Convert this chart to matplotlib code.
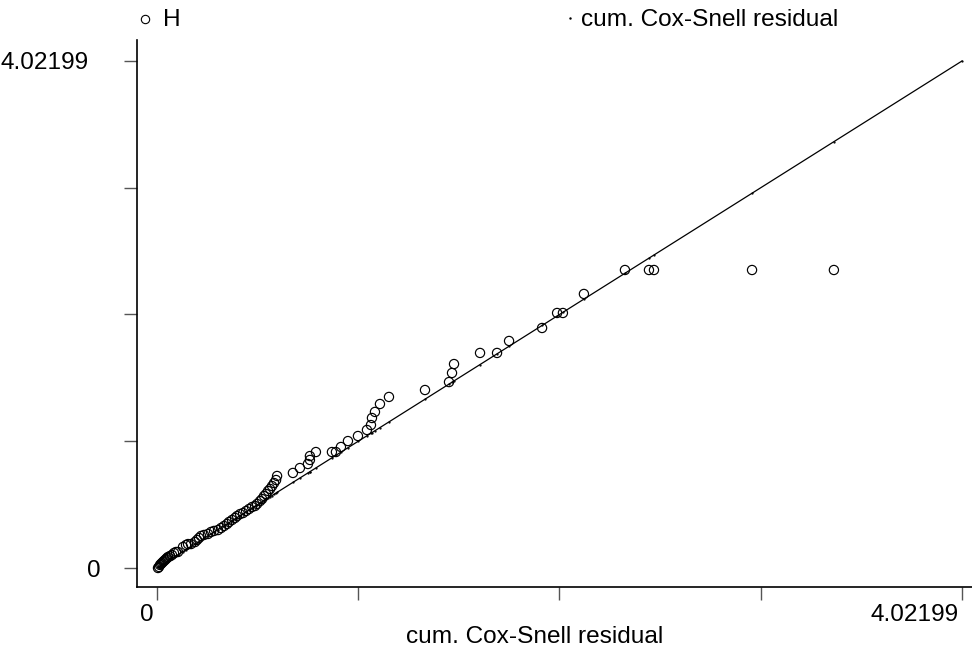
import matplotlib
matplotlib.use("Agg")
import matplotlib.pyplot as plt
import matplotlib.transforms as mtransforms
from matplotlib import font_manager
from matplotlib.lines import Line2D
import numpy as np

# Cox-Snell residuals (x) and Nelson-Aalen cumulative hazard H (y)
cs_resid = [0.005, 0.010, 0.015, 0.020, 0.025, 0.030, 0.035, 0.040, 0.045, 0.050,
            0.055, 0.065, 0.075, 0.085, 0.095, 0.105, 0.130, 0.145, 0.155, 0.170,
            0.190, 0.200, 0.210, 0.220, 0.235, 0.255, 0.270, 0.285, 0.305, 0.320,
            0.335, 0.350, 0.360, 0.375, 0.390, 0.400, 0.415, 0.430, 0.445, 0.460,
            0.475, 0.490, 0.500, 0.515, 0.525, 0.535, 0.545, 0.555, 0.565, 0.575,
            0.585, 0.595, 0.600, 0.679, 0.714, 0.754, 0.764, 0.764, 0.794, 0.874,
            0.894, 0.919, 0.954, 1.004, 1.049, 1.069, 1.074, 1.089, 1.114, 1.159,
            1.339, 1.459, 1.474, 1.484, 1.614, 1.699, 1.759, 1.924, 1.999, 2.028,
            2.133, 2.338, 2.458, 2.483, 2.973, 3.382, 4.02199]
H = [0.000, 0.008, 0.024, 0.032, 0.040, 0.048, 0.056, 0.063, 0.071, 0.079,
     0.087, 0.095, 0.103, 0.119, 0.127, 0.127, 0.167, 0.182, 0.190, 0.190,
     0.206, 0.222, 0.238, 0.254, 0.262, 0.270, 0.286, 0.294, 0.301, 0.317,
     0.333, 0.349, 0.365, 0.381, 0.397, 0.412, 0.428, 0.436, 0.452, 0.468,
     0.484, 0.492, 0.508, 0.531, 0.547, 0.571, 0.587, 0.611, 0.627, 0.650,
     0.674, 0.698, 0.730, 0.754, 0.793, 0.825, 0.857, 0.888, 0.920, 0.920,
     0.920, 0.960, 1.007, 1.047, 1.095, 1.134, 1.190, 1.238, 1.301, 1.357,
     1.412, 1.475, 1.547, 1.618, 1.706, 1.706, 1.801, 1.904, 2.023, 2.023,
     2.174, 2.364, 2.364, 2.364, 2.364, 2.364, np.nan]

max_val = 4.02199
tick_vals = [0, max_val / 4, max_val / 2, 3 * max_val / 4, max_val]
tick_labels = ["0", "", "", "", "4.02199"]

# prefer a narrow sans (reference text is tall and condensed)
FONT = "Liberation Sans"
FS = 17.6
try:
    fp = font_manager.findfont("Liberation Sans Narrow", fallback_to_default=False)
    if "Narrow" in fp:
        FONT = "Liberation Sans Narrow"
        FS = 21.3
except Exception:
    pass

fig = plt.figure(figsize=(9.72, 6.53), dpi=100)
ax = fig.add_axes([137 / 972, 1 - 587 / 653, 1 - 137 / 972, (587 - 40) / 653])

x = np.array(cs_resid)
y = np.array(H, dtype=float)

ax.plot(x, x, color="black", lw=0.9, marker=".", markersize=1.2, zorder=2)
ax.scatter(x, y, s=44, facecolors="none", edgecolors="black", linewidths=0.85, zorder=3)

ax.set_xlim(-0.0999, 4.0720)
ax.set_ylim(-0.1507, 4.1885)

for s in ["top", "right"]:
    ax.spines[s].set_visible(False)
for s in ["left", "bottom"]:
    ax.spines[s].set_linewidth(1.2)
    ax.spines[s].set_color("black")

ax.set_xticks(tick_vals)
ax.set_xticklabels(tick_labels, fontfamily=FONT, fontsize=FS)
ax.set_yticks(tick_vals)
ax.set_yticklabels(tick_labels, fontfamily=FONT, fontsize=FS)
ax.tick_params(axis="both", length=9.5, width=1.0, color="#555555", direction="out")
ax.tick_params(axis="x", pad=3)
ax.tick_params(axis="y", pad=17)

for lab in ax.get_xticklabels():
    lab.set_ha("right")
    lab.set_transform(lab.get_transform() + mtransforms.ScaledTranslation(-3 / 100, 0, fig.dpi_scale_trans))
ylabs = ax.get_yticklabels()
ylabs[-1].set_transform(ylabs[-1].get_transform() + mtransforms.ScaledTranslation(-12 / 100, 0, fig.dpi_scale_trans))

ax.set_xlabel("cum. Cox-Snell residual", fontfamily=FONT, fontsize=FS)
ax.xaxis.set_label_coords((535 - 137) / (972 - 137), -(648 - 587) / (587 - 40))
ax.xaxis.label.set_va("bottom")

# legend above the plot
fig.text(163 / 972, 1 - 20 / 653, "H", fontfamily=FONT, fontsize=FS, va="center", ha="left")
fig.text(581 / 972, 1 - 20 / 653, "cum. Cox-Snell residual", fontfamily=FONT, fontsize=FS,
         va="center", ha="left")
fig.add_artist(Line2D([145 / 972], [1 - 19 / 653], transform=fig.transFigure, marker="o",
                      markersize=6, markerfacecolor="none", markeredgecolor="black",
                      markeredgewidth=0.8, linestyle="none"))
fig.add_artist(Line2D([570 / 972], [1 - 18 / 653], transform=fig.transFigure, marker=".",
                      markersize=1.5, color="black", linestyle="none"))

fig.savefig("out.png", dpi=100)
